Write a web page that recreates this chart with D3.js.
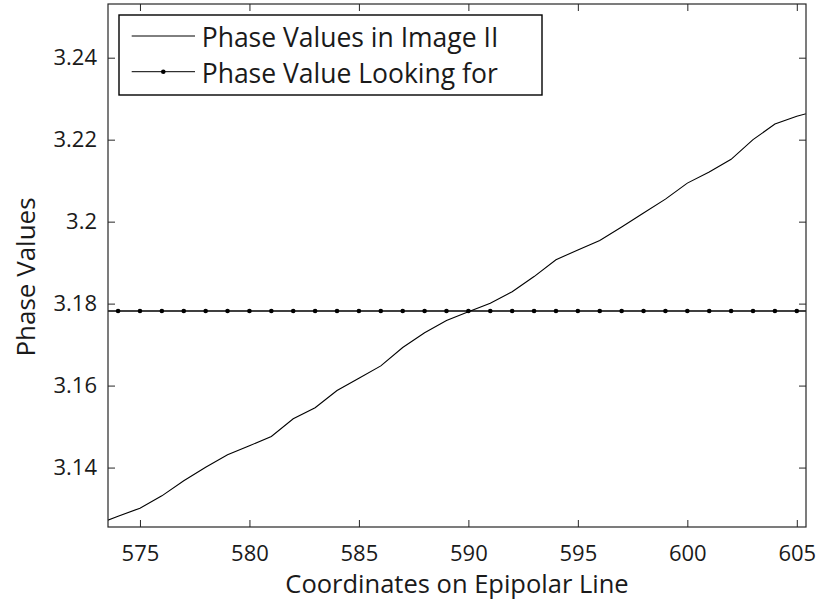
<!DOCTYPE html>
<html><head><meta charset="utf-8">
<script src="https://cdn.jsdelivr.net/npm/d3@7"></script>
<style>
html,body{margin:0;padding:0;background:#fff;}
text{font-family:"Open Sans","Noto Sans",sans-serif;fill:#1a1a1a;}
</style></head>
<body><svg id="chart" width="818" height="600"></svg>
<script>
// Data
const coords = [573,574,575,576,577,578,579,580,581,582,583,584,585,586,587,588,589,590,
                591,592,593,594,595,596,597,598,599,600,601,602,603,604,605,606];
const phaseImageII = [3.1261,3.1281,3.1301,3.1331,3.1368,3.1401,3.1431,3.1453,3.1476,3.1519,
                      3.1546,3.1588,3.1618,3.1648,3.1693,3.1729,3.1759,3.1780,3.1801,3.1829,
                      3.1866,3.1907,3.1931,3.1954,3.1987,3.2021,3.2055,3.2094,3.2121,3.2152,
                      3.2200,3.2238,3.2257,3.2272];
const targetPhase = 3.1782;
const xTicks = [575,580,585,590,595,600,605];
const yTicks = [3.14,3.16,3.18,3.2,3.22,3.24];
const yTickLabels = ["3.14","3.16","3.18","3.2","3.22","3.24"];
const xDomain = [573.54,605.42];
const yDomain = [3.1255,3.2531];
const legendLabels = ["Phase Values in Image II","Phase Value Looking for"];
const xTitle = "Coordinates on Epipolar Line";
const yTitle = "Phase Values";

const svg = d3.select("#chart");
const L = 108, R = 806, T = 4, B = 527;
const x = d3.scaleLinear().domain(xDomain).range([L, R]);
const y = d3.scaleLinear().domain(yDomain).range([B, T]);

svg.append("defs").append("clipPath").attr("id","clip")
  .append("rect").attr("x",L).attr("y",T).attr("width",R-L).attr("height",B-T);

const plot = svg.append("g").attr("clip-path","url(#clip)");
const line = d3.line().x(d=>x(d[0])).y(d=>y(d[1]));

plot.append("path")
  .datum(coords.map((c,i)=>[c,phaseImageII[i]]))
  .attr("d", line).attr("fill","none").attr("stroke","#000").attr("stroke-width",1.1);

const tData = coords.map(c=>[c,targetPhase]);
plot.append("path").datum(tData).attr("d", line)
  .attr("fill","none").attr("stroke","#000").attr("stroke-width",1.5);
plot.selectAll("circle.m").data(tData).enter().append("circle")
  .attr("class","m").attr("cx",d=>x(d[0])).attr("cy",d=>y(d[1])).attr("r",2.3).attr("fill","#000");

// Axes (box with inner ticks)
const axCol = "#262626";
function styleAxis(g){
  g.select(".domain").remove();
  g.selectAll(".tick line").attr("stroke",axCol).attr("stroke-width",1);
  g.selectAll(".tick text").style("font-size","22px").attr("fill","#1a1a1a");
}
svg.append("g").attr("transform",`translate(0,${B})`)
  .call(d3.axisBottom(x).tickValues(xTicks).tickFormat(d3.format("d")).tickSizeInner(-7).tickSizeOuter(0).tickPadding(18))
  .call(styleAxis);
svg.append("g").attr("transform",`translate(0,${T})`)
  .call(d3.axisTop(x).tickValues(xTicks).tickFormat("").tickSizeInner(-7).tickSizeOuter(0))
  .call(styleAxis);
svg.append("g").attr("transform",`translate(${L},0)`)
  .call(d3.axisLeft(y).tickValues(yTicks).tickFormat((d,i)=>yTickLabels[i]).tickSizeInner(-7).tickSizeOuter(0).tickPadding(11))
  .call(styleAxis);
svg.append("g").attr("transform",`translate(${R},0)`)
  .call(d3.axisRight(y).tickValues(yTicks).tickFormat("").tickSizeInner(-7).tickSizeOuter(0))
  .call(styleAxis);
svg.append("rect").attr("x",L).attr("y",T).attr("width",R-L).attr("height",B-T)
  .attr("fill","none").attr("stroke",axCol).attr("stroke-width",1.2);

// Titles
svg.append("text").attr("x",(L+R)/2).attr("y",593).attr("text-anchor","middle")
  .style("font-size","25.5px").text(xTitle);
svg.append("text").attr("transform",`translate(35,277) rotate(-90)`).attr("text-anchor","middle")
  .style("font-size","26px").text(yTitle);

// Legend
const lg = svg.append("g");
lg.append("rect").attr("x",119).attr("y",15).attr("width",423).attr("height",80)
  .attr("fill","#fff").attr("stroke","#000").attr("stroke-width",1.4);
const rows = [36, 71.7];
lg.append("line").attr("x1",131.7).attr("x2",195).attr("y1",rows[0]).attr("y2",rows[0])
  .attr("stroke","#000").attr("stroke-width",1);
lg.append("line").attr("x1",131.7).attr("x2",195).attr("y1",rows[1]).attr("y2",rows[1])
  .attr("stroke","#000").attr("stroke-width",1);
lg.append("circle").attr("cx",163.3).attr("cy",rows[1]).attr("r",2.3).attr("fill","#000");
legendLabels.forEach((t,i)=>{
  lg.append("text").attr("x",201.7).attr("y",rows[i]+11).style("font-size","26.5px").text(t);
});
</script></body></html>
